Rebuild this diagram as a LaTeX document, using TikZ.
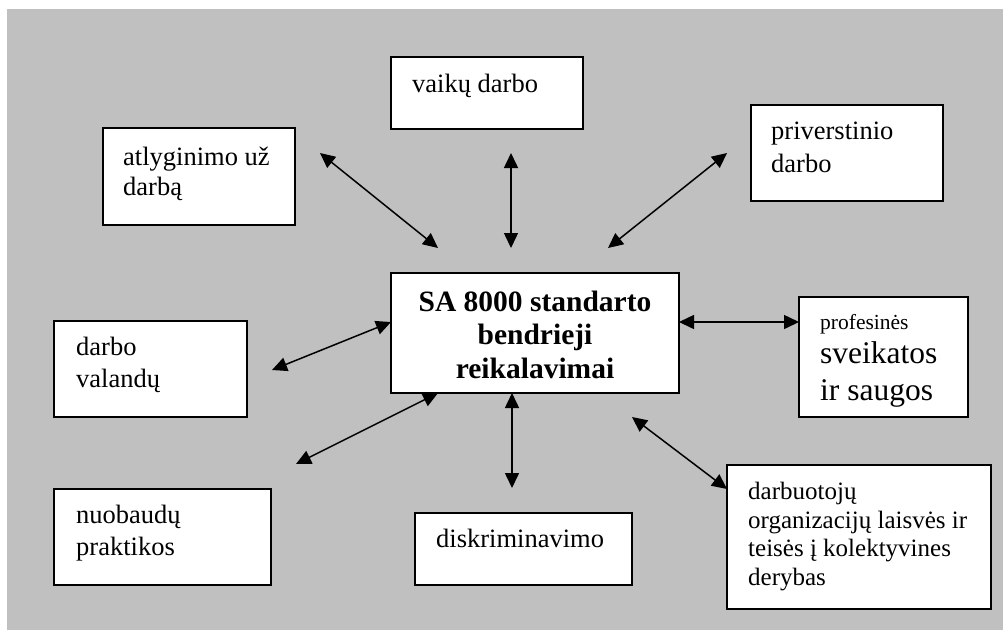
\documentclass[tikz,border=0pt]{standalone}
\usepackage{fontspec}
\setmainfont{Liberation Serif}
\usetikzlibrary{arrows.meta}
\definecolor{bggray}{HTML}{C0C0C0}
\begin{document}
\begin{tikzpicture}[x=1pt,y=-1pt,
  boxshape/.style={draw=black,fill=white,line width=1.9pt,inner sep=0pt},
  lbl/.style={inner sep=0pt,anchor=base west,align=left,font=\fontsize{26.5}{32}\selectfont},
  conn/.style={line width=1.5pt,{Triangle[length=15pt,width=14pt]}-{Triangle[length=15pt,width=14pt]}}
]
\useasboundingbox (0,0) rectangle (1003,630);
\fill[bggray] (7,9) rectangle (1003,630);

% boxes
\node[boxshape,minimum width=192pt,minimum height=97pt] (atl) at (199,176.5) {};
\node[boxshape,minimum width=192pt,minimum height=72pt] (vai) at (487,93) {};
\node[boxshape,minimum width=192pt,minimum height=96pt] (pri) at (847,153) {};
\node[boxshape,minimum width=288pt,minimum height=120pt] (sa) at (535,333) {};
\node[boxshape,minimum width=169pt,minimum height=120pt] (pro) at (883.5,357) {};
\node[boxshape,minimum width=193pt,minimum height=96pt] (val) at (150.5,369) {};
\node[boxshape,minimum width=217pt,minimum height=96pt] (nuo) at (162.5,537) {};
\node[boxshape,minimum width=217pt,minimum height=72pt] (dis) at (523.5,549) {};
\node[boxshape,minimum width=264pt,minimum height=144pt] (der) at (859,537) {};

% texts (multi-line nodes: base = last line baseline)
\node[lbl,font=\fontsize{26.5}{30}\selectfont] (tatl) at (123,195) {atlyginimo už\\darbą};
\node[lbl] (tvai) at (412,92) {vaikų darbo};
\node[lbl,font=\fontsize{26.5}{33}\selectfont] (tpri) at (771,172) {priverstinio\\darbo};
\node[inner sep=0pt,anchor=base,align=center,font=\bfseries\fontsize{29.5}{33.5}\selectfont] (tsa) at (535,378) {SA 8000 standarto\\bendrieji\\reikalavimai};
\node[inner sep=0pt,anchor=base west,font=\fontsize{21.5}{25}\selectfont] (tpro1) at (820,329) {profesinės};
\node[lbl,font=\fontsize{31.5}{37}\selectfont] (tpro2) at (820,400) {sveikatos\\ir saugos};
\node[lbl] (tval) at (76,387) {darbo\\valandų};
\node[lbl] (tnuo) at (76,555) {nuobaudų\\praktikos};
\node[lbl] (tdis) at (436,547) {diskriminavimo};
\node[lbl,font=\fontsize{25}{28.5}\selectfont] (tder) at (748,585) {darbuotojų\\organizacijų laisvės ir\\teisės į kolektyvines\\derybas};

% free connector ends
\coordinate (aA) at (320,153);
\coordinate (aB) at (438,248);
\coordinate (vA) at (511,153);
\coordinate (vB) at (511,248);
\coordinate (pA) at (727,153);
\coordinate (pB) at (608,248);
\coordinate (hL) at (679,322);
\coordinate (hR) at (799,322);
\coordinate (wL) at (391,322);
\coordinate (wR) at (272,370);
\coordinate (nA) at (438,393);
\coordinate (nB) at (296,464);
\coordinate (dA) at (512,393);
\coordinate (dB) at (512,488);
\coordinate (rA) at (632,417);
\coordinate (rB) at (727,489);

\draw[conn] (aA) -- (aB);
\draw[conn] (vA) -- (vB);
\draw[conn] (pA) -- (pB);
\draw[conn] (hL) -- (hR);
\draw[conn] (wL) -- (wR);
\draw[conn] (nA) -- (nB);
\draw[conn] (dA) -- (dB);
\draw[conn] (rA) -- (rB);
\end{tikzpicture}
\end{document}
